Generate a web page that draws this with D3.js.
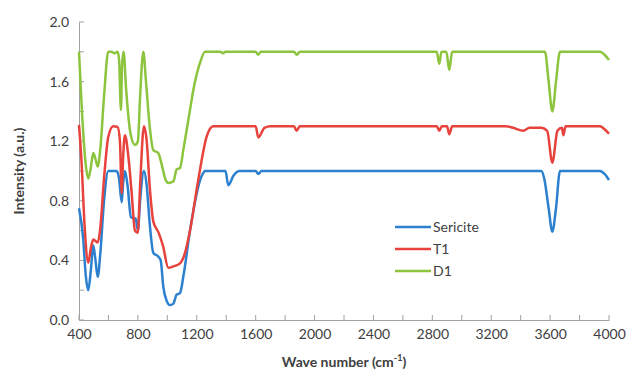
<!DOCTYPE html>
<html>
<head>
<meta charset="utf-8">
<script src="https://cdn.jsdelivr.net/npm/d3@7"></script>
<style>
  body { margin: 0; background: #fff; }
  text { font-family: Lato, "Open Sans", sans-serif; fill: #404040; }
</style>
</head>
<body>
<div id="root"></div>
<script>
const width = 627;
const height = 373;

// series: wave numbers (cm-1) and intensities
const sericiteWn = [400, 429, 445, 463, 480, 497, 512, 527, 545, 570, 599, 620, 655, 672, 690, 700, 712, 730, 753, 785, 800, 815, 841, 860, 880, 905, 939, 955, 973, 995, 1018, 1041, 1063, 1086, 1110, 1154, 1180, 1210, 1240, 1256, 1300, 1395, 1414, 1450, 1490, 1600, 1618, 1640, 3540, 3560, 3590, 3615, 3640, 3667, 3700, 3939, 3970, 4000];
const sericiteVal = [0.75, 0.54, 0.31, 0.20, 0.33, 0.50, 0.40, 0.29, 0.45, 0.80, 1.00, 1.00, 1.00, 0.95, 0.79, 0.92, 1.00, 0.90, 0.69, 0.68, 0.60, 0.80, 1.00, 0.90, 0.65, 0.45, 0.425, 0.40, 0.22, 0.13, 0.10, 0.11, 0.17, 0.18, 0.30, 0.60, 0.75, 0.895, 0.98, 1.00, 1.00, 1.00, 0.905, 0.97, 1.00, 1.00, 0.98, 1.00, 1.00, 0.95, 0.75, 0.593, 0.75, 1.00, 1.00, 1.00, 0.98, 0.94];

const t1Wn = [400, 415, 440, 463, 480, 497, 512, 527, 545, 570, 599, 633, 662, 678, 690, 700, 712, 735, 758, 780, 799, 815, 841, 860, 880, 905, 939, 970, 1007, 1041, 1086, 1120, 1154, 1210, 1267, 1312, 1600, 1618, 1660, 1700, 1860, 1878, 1900, 2830, 2847, 2865, 2900, 2915, 2935, 3300, 3348, 3418, 3460, 3540, 3580, 3615, 3650, 3680, 3690, 3705, 3730, 3939, 3970, 4000];
const t1Val = [1.31, 1.10, 0.60, 0.385, 0.48, 0.54, 0.53, 0.52, 0.62, 0.95, 1.23, 1.30, 1.295, 1.20, 0.85, 1.10, 1.24, 1.10, 0.85, 0.60, 0.585, 0.90, 1.30, 1.20, 0.90, 0.66, 0.59, 0.50, 0.35, 0.36, 0.38, 0.45, 0.60, 0.94, 1.23, 1.30, 1.30, 1.225, 1.29, 1.30, 1.30, 1.27, 1.30, 1.30, 1.27, 1.30, 1.30, 1.246, 1.30, 1.30, 1.29, 1.27, 1.29, 1.29, 1.27, 1.056, 1.27, 1.29, 1.24, 1.30, 1.30, 1.30, 1.28, 1.25];

const d1Wn = [400, 420, 445, 463, 480, 497, 512, 527, 545, 570, 599, 620, 640, 662, 672, 685, 692, 703, 720, 750, 780, 800, 815, 837, 855, 880, 905, 939, 960, 985, 1007, 1041, 1063, 1086, 1110, 1154, 1176, 1220, 1256, 1360, 1378, 1395, 1600, 1616, 1635, 1860, 1880, 1900, 2830, 2847, 2862, 2895, 2915, 2935, 3565, 3590, 3615, 3640, 3667, 3939, 3970, 4000];
const d1Val = [1.80, 1.40, 1.05, 0.95, 1.02, 1.12, 1.08, 1.03, 1.15, 1.50, 1.80, 1.80, 1.79, 1.80, 1.75, 1.41, 1.70, 1.80, 1.55, 1.25, 1.175, 1.20, 1.50, 1.80, 1.60, 1.30, 1.14, 1.12, 1.05, 0.95, 0.92, 0.93, 1.01, 1.02, 1.15, 1.41, 1.54, 1.72, 1.80, 1.80, 1.79, 1.80, 1.80, 1.78, 1.80, 1.80, 1.78, 1.80, 1.80, 1.72, 1.80, 1.80, 1.68, 1.80, 1.80, 1.60, 1.40, 1.60, 1.80, 1.80, 1.78, 1.745];

const seriesNames = ['Sericite', 'T1', 'D1'];
const seriesColors = ['#2b80cf', '#e8423c', '#8cc43e'];
const xTicks = [400, 800, 1200, 1600, 2000, 2400, 2800, 3200, 3600, 4000];
const yTicks = [0, 0.4, 0.8, 1.2, 1.6, 2.0];

const series = [
  { name: seriesNames[0], color: seriesColors[0], pts: sericiteWn.map((w, i) => [w, sericiteVal[i]]) },
  { name: seriesNames[1], color: seriesColors[1], pts: t1Wn.map((w, i) => [w, t1Val[i]]) },
  { name: seriesNames[2], color: seriesColors[2], pts: d1Wn.map((w, i) => [w, d1Val[i]]) }
];

const padding = { left: 79, right: 18, top: 22, bottom: 53 };

const svg = d3.select('#root')
  .append('svg')
  .attr('width', width).attr('height', height);

const xScale = d3.scaleLinear()
  .domain([400, 4000])
  .range([padding.left, width - padding.right]);

const yScale = d3.scaleLinear()
  .domain([0, 2])
  .range([height - padding.bottom, padding.top]);

const axisColor = '#a0a0a0';

// axes
const xAxis = d3.axisBottom(xScale).tickValues(xTicks).tickSize(0).tickPadding(9).tickFormat(d3.format('d'));
const gx = svg.append('g')
  .attr('transform', `translate(0, ${yScale(0)})`)
  .call(xAxis);
gx.select('.domain').attr('stroke', axisColor);
gx.selectAll('text').attr('font-size', 14).style('fill', '#404040');

// small ticks every 200 on the x axis, inside the plot
svg.append('g').selectAll('line')
  .data(d3.range(400, 4001, 200)).enter()
  .append('line')
  .attr('x1', d => xScale(d)).attr('x2', d => xScale(d))
  .attr('y1', yScale(0)).attr('y2', yScale(0) - 5)
  .attr('stroke', axisColor);

const yAxis = d3.axisLeft(yScale).tickValues(yTicks).tickSize(0).tickPadding(10).tickFormat(d3.format('.1f'));
const gy = svg.append('g')
  .attr('transform', `translate(${xScale(400)}, 0)`)
  .call(yAxis);
gy.select('.domain').attr('stroke', axisColor);
gy.selectAll('text').attr('font-size', 14).style('fill', '#404040');

svg.append('g').selectAll('line')
  .data(d3.range(0, 2.01, 0.2)).enter()
  .append('line')
  .attr('x1', xScale(400)).attr('x2', xScale(400) + 5)
  .attr('y1', d => yScale(d)).attr('y2', d => yScale(d))
  .attr('stroke', axisColor);

// lines
const line = d3.line()
  .x(d => xScale(d[0]))
  .y(d => yScale(d[1]))
  .curve(d3.curveMonotoneX);

svg.append('g').selectAll('path')
  .data(series).enter()
  .append('path')
  .attr('d', d => line(d.pts))
  .attr('fill', 'none')
  .attr('stroke', d => d.color)
  .attr('stroke-width', 2.5)
  .attr('stroke-linejoin', 'round');

// legend
const legend = svg.append('g').attr('transform', 'translate(395, 227)');
const rows = legend.selectAll('g')
  .data(series).enter()
  .append('g')
  .attr('transform', (d, i) => `translate(0, ${i * 22})`);
rows.append('line')
  .attr('x1', 0).attr('x2', 36)
  .attr('stroke', d => d.color)
  .attr('stroke-width', 2.5);
rows.append('text')
  .attr('x', 38).attr('dy', '0.35em')
  .attr('font-size', 14)
  .text(d => d.name);

// axis titles
const xTitle = svg.append('text')
  .attr('x', (xScale(400) + xScale(4000)) / 2)
  .attr('y', 367)
  .attr('text-anchor', 'middle')
  .attr('font-size', 14)
  .attr('font-weight', 'bold');
xTitle.append('tspan').text('Wave number (cm');
xTitle.append('tspan').attr('font-size', 9).attr('dy', -6).text('-1');
xTitle.append('tspan').attr('dy', 6).text(')');

svg.append('text')
  .attr('transform', `translate(24, ${(yScale(0) + yScale(2)) / 2}) rotate(-90)`)
  .attr('text-anchor', 'middle')
  .attr('font-size', 14)
  .attr('font-weight', 'bold')
  .text('Intensity (a.u.)');
</script>
</body>
</html>
